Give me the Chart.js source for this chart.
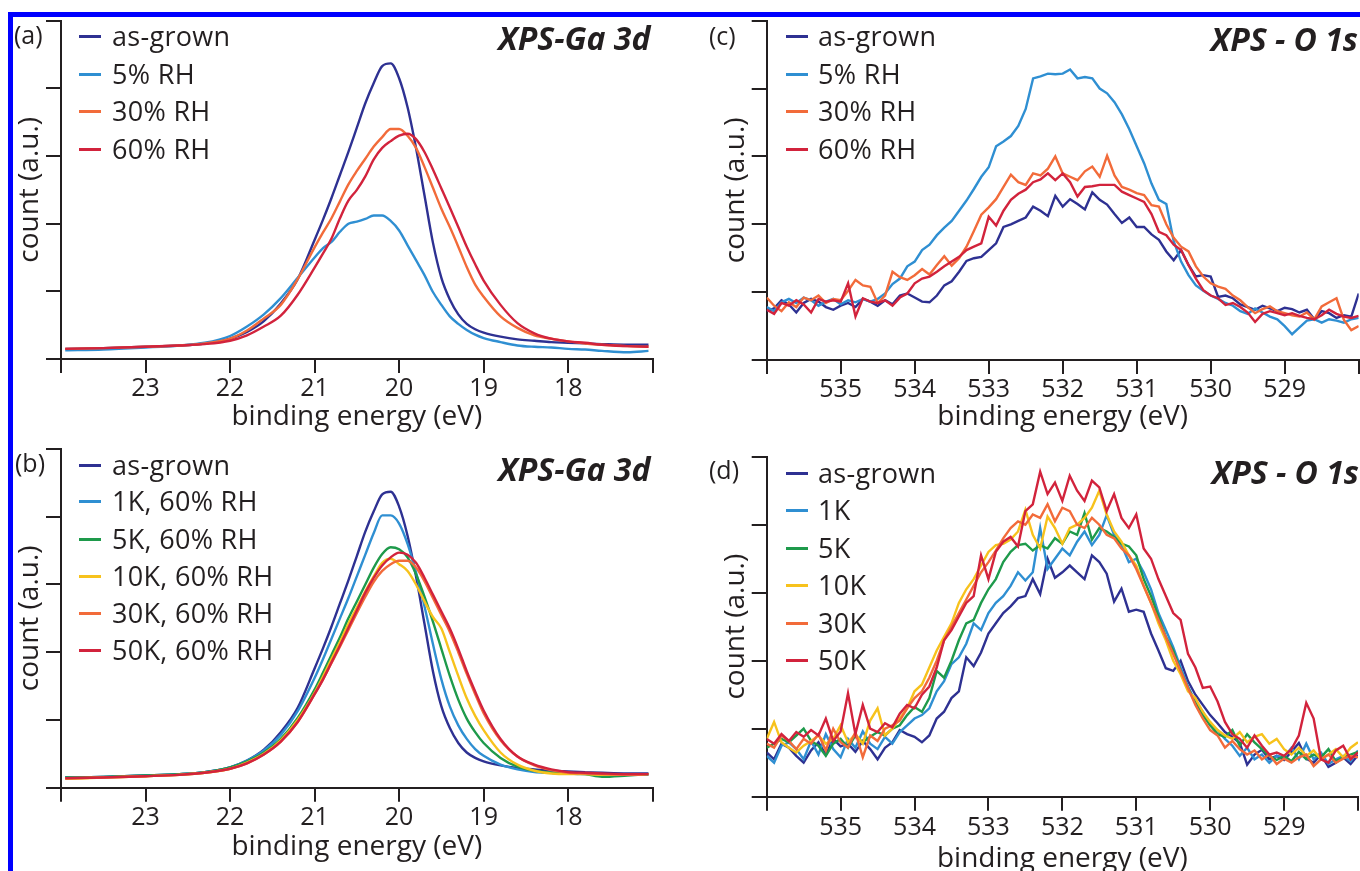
<!DOCTYPE html>
<html>
<head>
<meta charset="utf-8">
<script src="https://cdn.jsdelivr.net/npm/chart.js@4.4.1/dist/chart.umd.min.js"></script>
<style>
  body { margin: 0; background: #fff; }
  #page { position: relative; width: 1360px; height: 871px; overflow: hidden; background: #fff;
          font-family: 'Open Sans', sans-serif; color: #231f20; }
  .panel { position: absolute; }
  .frame { position: absolute; background: #0000ff; }
  .tag { position: absolute; font-size: 25px; line-height: 25px; white-space: nowrap; }
  .head { position: absolute; font-size: 32px; line-height: 32px; font-weight: 700; font-style: italic; white-space: nowrap; }
  .key { position: absolute; font-size: 27px; line-height: 27px; letter-spacing: 0.3px; white-space: nowrap; }
  .dash { position: absolute; width: 22px; height: 3px; }
</style>
</head>
<body>
<div id="page">
  <div class="frame" style="left:8px; top:12px; width:1352px; height:5px"></div>
  <div class="frame" style="left:8px; top:12px; width:5px; height:859px"></div>
  <div class="panel" style="left:0; top:0; width:680px; height:440px"><canvas id="pa"></canvas></div>
  <div class="panel" style="left:0; top:430px; width:680px; height:440px"><canvas id="pb"></canvas></div>
  <div class="panel" style="left:680px; top:0; width:680px; height:440px"><canvas id="pc"></canvas></div>
  <div class="panel" style="left:680px; top:430px; width:680px; height:450px"><canvas id="pd"></canvas></div>
</div>
<script>
// Ga 3d spectra, binding energy (eV)
const gaEnergy = [23.95, 23.5, 23.0, 22.6, 22.3, 22.0, 21.8, 21.6, 21.4, 21.2,
  21.0, 20.9, 20.8, 20.7, 20.6, 20.5, 20.4, 20.3, 20.2, 20.1,
  20.0, 19.9, 19.8, 19.7, 19.6, 19.5, 19.4, 19.3, 19.2, 19.1,
  19.0, 18.8, 18.6, 18.4, 18.2, 18.0, 17.8, 17.6, 17.3, 17.05];

// panel (a)
const aAsGrown = [0.15, 0.16, 0.18, 0.2, 0.23, 0.3, 0.4, 0.56, 0.82, 1.18,
  1.76, 2.06, 2.38, 2.72, 3.06, 3.42, 3.78, 4.08, 4.33, 4.37,
  4.15, 3.72, 3.12, 2.42, 1.72, 1.2, 0.88, 0.66, 0.52, 0.44,
  0.39, 0.33, 0.29, 0.27, 0.25, 0.24, 0.23, 0.22, 0.21, 0.21];
const aRH5 = [0.13, 0.14, 0.17, 0.2, 0.24, 0.34, 0.48, 0.66, 0.9, 1.2,
  1.5, 1.64, 1.73, 1.88, 2.0, 2.03, 2.07, 2.12, 2.12, 2.04,
  1.9, 1.68, 1.46, 1.24, 0.99, 0.8, 0.63, 0.52, 0.43, 0.36,
  0.31, 0.25, 0.2, 0.18, 0.17, 0.15, 0.14, 0.12, 0.1, 0.12];
const aRH30 = [0.15, 0.16, 0.18, 0.2, 0.23, 0.3, 0.42, 0.6, 0.8, 1.18,
  1.65, 1.87, 2.08, 2.33, 2.58, 2.78, 2.96, 3.14, 3.28, 3.4,
  3.4, 3.3, 3.12, 2.84, 2.53, 2.22, 1.95, 1.66, 1.36, 1.1,
  0.92, 0.63, 0.46, 0.35, 0.3, 0.26, 0.23, 0.21, 0.19, 0.18];
const aRH60 = [0.15, 0.16, 0.18, 0.2, 0.22, 0.27, 0.35, 0.48, 0.64, 0.95,
  1.35, 1.56, 1.78, 2.08, 2.34, 2.5, 2.7, 2.95, 3.12, 3.22,
  3.3, 3.33, 3.25, 3.06, 2.8, 2.52, 2.24, 1.95, 1.66, 1.4,
  1.16, 0.8, 0.53, 0.38, 0.3, 0.26, 0.24, 0.21, 0.19, 0.18];

// panel (b)
const bAsGrown = [0.15, 0.16, 0.18, 0.2, 0.23, 0.3, 0.4, 0.56, 0.82, 1.18,
  1.76, 2.06, 2.38, 2.72, 3.06, 3.42, 3.78, 4.08, 4.33, 4.37,
  4.15, 3.72, 3.12, 2.42, 1.72, 1.2, 0.88, 0.66, 0.52, 0.44,
  0.39, 0.33, 0.29, 0.27, 0.25, 0.24, 0.23, 0.22, 0.21, 0.21];
const b1K = [0.15, 0.16, 0.18, 0.2, 0.23, 0.3, 0.4, 0.55, 0.78, 1.13,
  1.62, 1.9, 2.2, 2.5, 2.8, 3.12, 3.44, 3.76, 4.02, 4.02,
  3.9, 3.6, 3.18, 2.68, 2.12, 1.6, 1.2, 0.92, 0.72, 0.57,
  0.47, 0.34, 0.27, 0.23, 0.22, 0.21, 0.2, 0.2, 0.19, 0.19];
const b5K = [0.15, 0.16, 0.18, 0.2, 0.23, 0.3, 0.39, 0.52, 0.72, 1.03,
  1.45, 1.7, 1.96, 2.22, 2.5, 2.75, 3.0, 3.25, 3.45, 3.55,
  3.52, 3.4, 3.15, 2.82, 2.45, 2.05, 1.65, 1.3, 1.02, 0.82,
  0.66, 0.44, 0.31, 0.25, 0.22, 0.21, 0.2, 0.16, 0.18, 0.2];
const b10K = [0.13, 0.15, 0.17, 0.19, 0.22, 0.28, 0.37, 0.5, 0.7, 1.0,
  1.4, 1.64, 1.9, 2.15, 2.42, 2.66, 2.9, 3.12, 3.32, 3.38,
  3.3, 3.2, 3.0, 2.75, 2.52, 2.35, 2.0, 1.65, 1.32, 1.06,
  0.85, 0.52, 0.34, 0.25, 0.21, 0.2, 0.2, 0.19, 0.19, 0.2];
const b30K = [0.14, 0.15, 0.17, 0.19, 0.22, 0.28, 0.36, 0.49, 0.68, 0.97,
  1.38, 1.6, 1.84, 2.08, 2.33, 2.58, 2.82, 3.04, 3.2, 3.3,
  3.35, 3.35, 3.25, 3.05, 2.8, 2.55, 2.3, 2.0, 1.68, 1.38,
  1.1, 0.7, 0.46, 0.33, 0.26, 0.22, 0.21, 0.2, 0.19, 0.2];
const b50K = [0.14, 0.15, 0.17, 0.19, 0.22, 0.28, 0.36, 0.49, 0.68, 0.97,
  1.38, 1.6, 1.85, 2.1, 2.36, 2.62, 2.88, 3.1, 3.28, 3.4,
  3.47, 3.44, 3.32, 3.1, 2.85, 2.6, 2.35, 2.05, 1.72, 1.42,
  1.14, 0.72, 0.46, 0.34, 0.27, 0.23, 0.22, 0.21, 0.2, 0.2];

// O 1s spectra, binding energy (eV)
const oEnergy = [536, 535.9, 535.8, 535.7, 535.6, 535.5, 535.4, 535.3, 535.2, 535.1,
  535, 534.9, 534.8, 534.7, 534.6, 534.5, 534.4, 534.3, 534.2, 534.1,
  534, 533.9, 533.8, 533.7, 533.6, 533.5, 533.4, 533.3, 533.2, 533.1,
  533, 532.9, 532.8, 532.7, 532.6, 532.5, 532.4, 532.3, 532.2, 532.1,
  532, 531.9, 531.8, 531.7, 531.6, 531.5, 531.4, 531.3, 531.2, 531.1,
  531, 530.9, 530.8, 530.7, 530.6, 530.5, 530.4, 530.3, 530.2, 530.1,
  530, 529.9, 529.8, 529.7, 529.6, 529.5, 529.4, 529.3, 529.2, 529.1,
  529, 528.9, 528.8, 528.7, 528.6, 528.5, 528.4, 528.3, 528.2, 528.1,
  528];

// panel (c)
const cAsGrown = [0.72, 0.76, 0.88, 0.82, 0.7, 0.84, 0.9, 0.86, 0.78, 0.74,
  0.8, 0.84, 0.78, 0.9, 0.86, 0.8, 0.88, 0.82, 0.95, 0.98,
  0.92, 0.86, 0.85, 0.95, 1.1, 1.16, 1.3, 1.46, 1.5, 1.52,
  1.62, 1.72, 1.96, 2.0, 2.05, 2.1, 2.26, 2.2, 2.12, 2.42,
  2.26, 2.37, 2.3, 2.22, 2.47, 2.36, 2.29, 2.15, 2.02, 2.1,
  1.96, 1.96, 1.85, 1.77, 1.6, 1.47, 1.62, 1.4, 1.23, 1.25,
  1.23, 0.93, 0.95, 0.91, 0.82, 0.78, 0.74, 0.8, 0.76, 0.72,
  0.77, 0.75, 0.7, 0.74, 0.6, 0.72, 0.69, 0.62, 0.66, 0.64,
  0.98];
const cRH5 = [0.78, 0.72, 0.85, 0.9, 0.84, 0.92, 0.88, 0.8, 0.86, 0.9,
  0.82, 0.88, 0.85, 0.9, 0.86, 0.9, 0.98, 1.12, 1.2, 1.38,
  1.45, 1.62, 1.7, 1.84, 1.95, 2.05, 2.2, 2.35, 2.52, 2.7,
  2.84, 3.15, 3.22, 3.3, 3.45, 3.7, 4.15, 4.18, 4.22, 4.21,
  4.22, 4.28, 4.15, 4.17, 4.15, 4.0, 3.93, 3.8, 3.62, 3.4,
  3.15, 2.9, 2.6, 2.36, 2.3, 1.75, 1.45, 1.25, 1.1, 1.02,
  0.95, 0.9, 0.84, 0.8, 0.72, 0.68, 0.76, 0.7, 0.64, 0.6,
  0.5, 0.38, 0.48, 0.58, 0.6, 0.55, 0.6, 0.58, 0.55, 0.6,
  0.62];
const cRH30 = [0.92, 0.8, 0.72, 0.85, 0.78, 0.92, 0.88, 0.95, 0.84, 0.9,
  0.88, 1.02, 1.18, 1.1, 1.08, 0.84, 0.95, 1.3, 1.22, 1.18,
  1.25, 1.34, 1.26, 1.4, 1.53, 1.39, 1.5, 1.67, 1.9, 2.14,
  2.25, 2.37, 2.55, 2.73, 2.62, 2.58, 2.75, 2.72, 2.82, 3.0,
  2.75, 2.7, 2.65, 2.78, 2.85, 2.7, 3.01, 2.72, 2.55, 2.51,
  2.46, 2.43, 2.28, 2.26, 2.0, 1.8, 1.67, 1.6, 1.38, 1.23,
  1.13, 1.08, 1.05, 0.95, 0.88, 0.78, 0.69, 0.75, 0.79, 0.72,
  0.69, 0.66, 0.64, 0.7, 0.6, 0.79, 0.85, 0.91, 0.59, 0.44,
  0.5];
const cRH60 = [0.74, 0.68, 0.84, 0.8, 0.88, 0.82, 0.7, 0.9, 0.86, 0.88,
  0.86, 1.13, 0.64, 0.91, 0.86, 0.84, 0.88, 0.8, 0.92, 0.98,
  1.13, 1.2, 1.23, 1.3, 1.38, 1.45, 1.52, 1.62, 1.67, 1.72,
  2.11, 1.98, 2.2, 2.36, 2.45, 2.51, 2.62, 2.66, 2.75, 2.65,
  2.75, 2.62, 2.41, 2.55, 2.56, 2.58, 2.58, 2.58, 2.48, 2.43,
  2.38, 2.33, 2.15, 1.89, 1.84, 1.7, 1.62, 1.4, 1.2, 1.03,
  0.95, 0.91, 0.81, 0.84, 0.78, 0.7, 0.56, 0.68, 0.72, 0.69,
  0.66, 0.69, 0.65, 0.62, 0.6, 0.66, 0.74, 0.68, 0.64, 0.62,
  0.65];

// panel (d)
const dAsGrown = [0.65, 0.55, 0.78, 0.72, 0.6, 0.5, 0.68, 0.8, 0.62, 0.85,
  0.74, 0.78, 0.66, 0.82, 0.7, 0.55, 0.72, 0.8, 0.98, 0.92,
  0.88, 0.8, 0.9, 1.15, 1.25, 1.45, 1.55, 2.05, 1.92, 2.12,
  2.4, 2.55, 2.7, 2.8, 2.92, 2.95, 3.2, 2.98, 3.5, 3.22,
  3.3, 3.4, 3.3, 3.2, 3.55, 3.45, 3.28, 2.87, 3.06, 2.72,
  2.75, 2.72, 2.4, 2.15, 1.89, 1.85, 2.0, 1.7, 1.5, 1.35,
  1.2, 1.08, 0.95, 0.88, 0.79, 0.47, 0.62, 0.69, 0.55, 0.6,
  0.54, 0.66, 0.79, 0.56, 0.5, 0.62, 0.44, 0.5, 0.58, 0.48,
  0.61];
const d1K = [0.6, 0.5, 0.75, 0.8, 0.7, 0.55, 0.82, 0.62, 0.92, 0.7,
  0.58, 0.85, 0.72, 0.96, 0.78, 0.7, 0.88, 0.78, 0.95, 1.05,
  1.15, 1.2, 1.3, 1.55, 1.7, 1.95, 2.05, 2.25, 2.55, 2.45,
  2.7, 2.85, 2.95, 3.1, 3.3, 3.18, 3.3, 3.95, 3.35, 3.5,
  3.65, 3.55, 3.75, 3.9, 3.7, 3.85, 4.14, 3.85, 3.7, 3.45,
  3.5, 3.3, 3.05, 2.7, 2.45, 2.2, 1.9, 1.62, 1.4, 1.25,
  1.05, 0.98, 0.85, 0.75, 0.6, 0.72, 0.55, 0.62, 0.5, 0.6,
  0.58, 0.72, 0.55, 0.78, 0.55, 0.65, 0.48, 0.55, 0.6, 0.52,
  0.68];
const d5K = [0.72, 0.78, 0.85, 0.8, 0.9, 1.0, 0.82, 0.75, 0.6, 0.78,
  0.85, 0.72, 0.9, 0.8, 0.88, 0.95, 0.9, 1.0, 1.05, 1.2,
  1.32, 1.25, 1.45, 1.85, 1.75, 2.0, 2.3, 2.55, 2.6, 2.85,
  3.05, 3.2, 3.45, 3.6, 3.7, 3.72, 3.62, 3.7, 3.65, 3.8,
  3.72, 3.9, 3.85, 4.17, 3.78, 3.95, 3.9, 3.82, 3.72, 3.68,
  3.55, 3.2, 2.95, 2.65, 2.35, 2.15, 1.85, 1.6, 1.38, 1.2,
  1.05, 0.92, 0.88, 0.98, 0.75, 0.92, 0.8, 0.7, 0.6, 0.54,
  0.6, 0.52, 0.66, 0.55, 0.62, 0.58, 0.7, 0.52, 0.58, 0.62,
  0.66];
const d10K = [0.85, 1.1, 0.8, 0.72, 0.65, 0.75, 0.82, 0.9, 0.78, 0.85,
  1.05, 0.8, 0.92, 0.78, 1.12, 1.3, 0.9, 1.0, 1.15, 1.3,
  1.55, 1.65, 1.9, 2.15, 2.35, 2.55, 2.85, 3.05, 3.2, 3.4,
  3.6, 3.7, 3.72, 3.78, 3.9, 4.22, 3.85, 3.65, 4.12, 3.95,
  3.72, 3.95, 4.0, 4.1, 4.25, 4.5, 4.15, 3.9, 3.75, 3.55,
  3.4, 3.1, 2.85, 2.55, 2.3, 2.0, 1.8, 1.55, 1.45, 1.25,
  1.1, 0.98, 0.9, 0.85, 0.95, 0.8, 0.88, 0.92, 0.78, 0.85,
  0.7, 0.62, 0.72, 0.6, 0.68, 0.55, 0.62, 0.7, 0.58, 0.72,
  0.8];
const d30K = [0.78, 0.72, 0.9, 0.82, 0.7, 0.85, 0.78, 0.92, 0.68, 1.0,
  0.8, 0.72, 0.95, 0.58, 0.9, 0.82, 1.0, 1.05, 1.12, 1.3,
  1.45, 1.55, 1.75, 2.0, 2.3, 2.5, 2.7, 2.9, 3.1, 3.3,
  3.45, 3.62, 3.8, 3.95, 4.05, 4.0, 4.15, 4.1, 4.3, 4.05,
  4.25, 4.2, 4.0, 3.95, 4.1, 4.0, 3.85, 3.8, 3.65, 3.55,
  3.35, 3.1, 2.85, 2.6, 2.35, 2.1, 1.85, 1.6, 1.35, 1.15,
  0.98, 0.9, 0.72, 0.82, 0.7, 0.62, 0.68, 0.55, 0.62, 0.48,
  0.56, 0.5, 0.58, 0.62, 0.45, 0.55, 0.62, 0.5, 0.56, 0.6,
  0.58];
const d50K = [0.85, 0.78, 0.92, 0.82, 0.95, 0.88, 0.98, 0.9, 1.15, 0.82,
  0.96, 1.52, 0.92, 1.35, 1.0, 0.95, 1.08, 1.02, 1.22, 1.35,
  1.3, 1.5, 1.62, 1.9, 2.3, 2.45, 2.65, 2.85, 2.95, 3.55,
  3.2, 3.6, 3.75, 3.82, 3.68, 4.2, 4.3, 4.78, 4.45, 4.62,
  4.35, 4.72, 4.5, 4.35, 4.65, 4.55, 4.2, 4.45, 4.1, 3.95,
  4.15, 3.65, 3.5, 3.2, 2.95, 2.7, 2.6, 2.1, 1.9, 1.6,
  1.62, 1.4, 1.1, 0.92, 0.85, 0.72, 0.9, 0.75, 0.62, 0.65,
  0.6, 0.7, 0.9, 1.38, 1.15, 0.55, 0.5, 0.68, 0.75, 0.55,
  0.65];

const labelsA = ['as-grown', '5% RH', '30% RH', '60% RH'];
const labelsB = ['as-grown', '1K, 60% RH', '5K, 60% RH', '10K, 60% RH', '30K, 60% RH', '50K, 60% RH'];
const labelsC = ['as-grown', '5% RH', '30% RH', '60% RH'];
const labelsD = ['as-grown', '1K', '5K', '10K', '30K', '50K'];

const colorsRH = ['#2e3192', '#2f8fd2', '#f26b3a', '#d2233c'];
const colorsK = ['#2e3192', '#2f8fd2', '#1e9a4b', '#f7c21c', '#f26b3a', '#d2233c'];

const ink = '#231f20';
Chart.defaults.font.family = "'Open Sans', sans-serif";
Chart.defaults.color = ink;

const panels = [
  { id: 'pa', energy: gaEnergy, series: [aAsGrown, aRH5, aRH30, aRH60], labels: labelsA, colors: colorsRH,
    xMin: 17, xMax: 24, smooth: true,
    pad: { left: 13.6, top: 20.7, right: 27.3, bottom: 6.2 }, yW: 47.4, xH: 74.8, tickPad: 1,
    tag: '(a)', tagAt: [14, 22], head: 'XPS-Ga 3d', headRight: 709.5, headTop: 22,
    keyDash: 79, keyText: 112, keyRows: [36.7, 74, 111.7, 149] },
  { id: 'pb', energy: gaEnergy, series: [bAsGrown, b1K, b5K, b10K, b30K, b50K], labels: labelsB, colors: colorsK,
    xMin: 17, xMax: 24, smooth: true,
    pad: { left: 13.6, top: 19, right: 27.3, bottom: 6.5 }, yW: 47.4, xH: 75.8, tickPad: 1,
    tag: '(b)', tagAt: [15, 450], head: 'XPS-Ga 3d', headRight: 709.5, headTop: 453,
    keyDash: 79, keyText: 112, keyRows: [465, 501.7, 539, 576.7, 613.3, 650] },
  { id: 'pc', energy: oEnergy, series: [cAsGrown, cRH5, cRH30, cRH60], labels: labelsC, colors: colorsRH,
    xMin: 528, xMax: 536, smooth: false,
    pad: { left: 39.2, top: 20.7, right: 1.3, bottom: 6.5 }, yW: 47.5, xH: 73.5, tickPad: 1,
    tag: '(c)', tagAt: [709, 22.6], head: 'XPS - O 1s', headRight: 2, headTop: 23,
    keyDash: 786, keyText: 818, keyRows: [36.7, 74, 111.7, 149] },
  { id: 'pd', energy: oEnergy, series: [dAsGrown, d1K, d5K, d10K, d30K, d50K], labels: labelsD, colors: colorsK,
    xMin: 528, xMax: 536, smooth: false,
    pad: { left: 39.2, top: 26.7, right: 1.3, bottom: 4.2 }, yW: 47.5, xH: 79.1, tickPad: 2,
    tag: '(d)', tagAt: [709, 457.3], head: 'XPS - O 1s', headRight: 1, headTop: 456,
    keyDash: 786, keyText: 818, keyRows: [473.3, 510.7, 548.3, 585.7, 623.3, 660.7] }
];

const page = document.getElementById('page');

function addText(cls, text, css) {
  const el = document.createElement('div');
  el.className = cls;
  el.textContent = text;
  Object.assign(el.style, css);
  page.appendChild(el);
  return el;
}

panels.forEach(p => {
  const n = p.series.length;
  const datasets = p.series.map((vals, i) => ({
    label: p.labels[i],
    data: p.energy.map((e, k) => ({ x: e, y: vals[k] })),
    borderColor: p.colors[i],
    borderWidth: 2.4,
    pointRadius: 0,
    fill: false,
    tension: 0,
    cubicInterpolationMode: p.smooth ? 'monotone' : 'default',
    order: n - i
  }));

  new Chart(document.getElementById(p.id), {
    type: 'line',
    data: { datasets },
    options: {
      responsive: true,
      maintainAspectRatio: false,
      animation: false,
      layout: { padding: p.pad },
      plugins: { legend: { display: false }, tooltip: { enabled: false } },
      scales: {
        x: {
          type: 'linear',
          reverse: true,
          min: p.xMin,
          max: p.xMax,
          afterFit: s => { s.height = p.xH; },
          border: { display: true, color: ink, width: 2 },
          grid: { drawOnChartArea: false, drawTicks: true, tickLength: 14, color: ink, lineWidth: 2 },
          ticks: {
            stepSize: 1, autoSkip: false, maxRotation: 0, padding: p.tickPad,
            color: ink, font: { size: 25 },
            callback: v => (v === p.xMin || v === p.xMax) ? '' : String(v)
          },
          title: { display: true, text: 'binding energy (eV)', color: ink,
                   font: { size: 28, lineHeight: 1.2 }, padding: { top: 0, bottom: 0 } }
        },
        y: {
          type: 'linear',
          min: 0,
          max: 5,
          afterFit: s => { s.width = p.yW; },
          border: { display: true, color: ink, width: 2 },
          grid: { drawOnChartArea: false, drawTicks: true, tickLength: 15, color: ink, lineWidth: 2 },
          ticks: { display: false, stepSize: 1 },
          title: { display: true, text: 'count (a.u.)', color: ink,
                   font: { size: 28, lineHeight: 1.2 }, padding: { top: 0, bottom: 0 } }
        }
      }
    }
  });

  addText('tag', p.tag, { left: p.tagAt[0] + 'px', top: p.tagAt[1] + 'px' });
  addText('head', p.head, { right: p.headRight + 'px', top: p.headTop + 'px' });
  p.labels.forEach((lab, i) => {
    const y = p.keyRows[i];
    const dash = document.createElement('div');
    dash.className = 'dash';
    dash.style.left = p.keyDash + 'px';
    dash.style.top = (y - 1.5) + 'px';
    dash.style.background = p.colors[i];
    page.appendChild(dash);
    addText('key', lab, { left: p.keyText + 'px', top: (y - 14.3) + 'px' });
  });
});
</script>
</body>
</html>
